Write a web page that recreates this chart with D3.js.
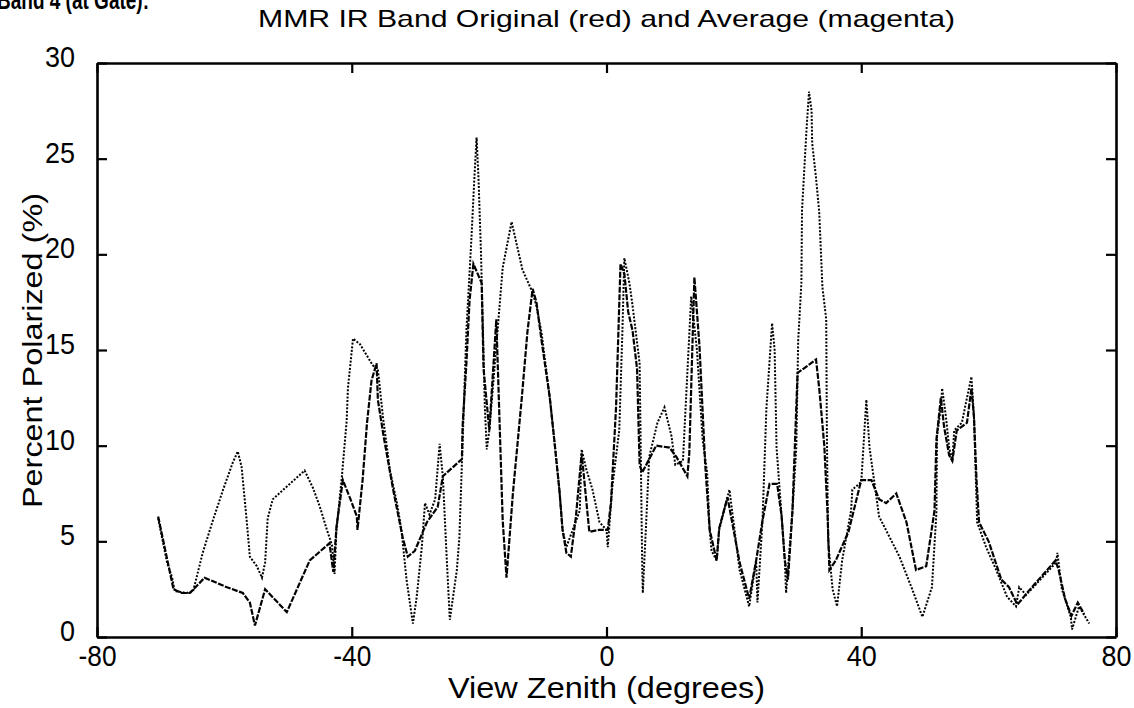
<!DOCTYPE html>
<html>
<head>
<meta charset="utf-8">
<script src="https://cdn.jsdelivr.net/npm/d3@7"></script>
<style>
  body { margin: 0; background: #fff; }
  svg text { fill: #000; }
</style>
</head>
<body>
<div class="chart"></div>
<script>
// data: [view zenith, percent polarized]
var originalSeries = [
  [-70.4,6.2],[-69,3.9],[-68.2,3.1],[-67.8,2.4],[-65.9,2.3],[-64.9,2.4],[-63.4,4.4],[-61.8,6.1],
  [-60.2,7.7],[-58.7,9.1],[-57.9,9.7],[-57.3,8.9],[-56.5,6.1],[-56,4.2],[-54.9,3.7],[-54.1,3.1],
  [-53.6,3.9],[-53.2,6.2],[-52.4,7.2],[-47.4,8.7],[-46.1,7.8],[-45,6.8],[-43.9,5.6],[-43.1,4.8],
  [-42.7,3.3],[-42.4,5.6],[-41.6,8.2],[-40.8,11.3],[-40.6,13.0],[-39.8,15.6],[-38.7,15.3],[-36.7,14.2],
  [-35.9,14.0],[-35.1,11.5],[-34,8.7],[-32.9,7.0],[-32.2,5.6],[-31.4,3.0],[-30.4,0.7],[-29.8,2.1],
  [-29,4.7],[-28.5,7.0],[-27.8,6.4],[-26.9,7.2],[-26.2,10.1],[-25.7,8.4],[-25.1,4.2],[-24.6,0.9],
  [-23.5,3.5],[-23.1,5.2],[-22.7,9.1],[-22,16],[-21.2,20.9],[-20.7,24.3],[-20.4,26.1],[-20.1,24.0],
  [-19.7,20],[-19.1,12],[-18.8,9.8],[-18.4,10.8],[-17.6,14],[-16.3,19.3],[-14.9,21.7],[-13.2,19.2],
  [-11.6,18.0],[-11,17.3],[-10.2,15.9],[-8.9,12.5],[-8.2,10.3],[-7.4,7.7],[-6.9,5.6],[-6.3,4.7],
  [-5.3,5.6],[-4.2,6.6],[-3.9,9.8],[-3.2,8.8],[-2.2,7.7],[-1.1,6.0],[0,5.6],[0.2,4.7],
  [0.9,7.8],[2.0,10.8],[2.5,16],[2.8,19.8],[3.6,18.5],[4.1,17.3],[5.2,14.3],[5.6,3.9],
  [5.7,2.3],[6.3,6.5],[6.7,9.4],[8.0,11.2],[9.1,12.0],[10.2,10.5],[10.8,9.0],[12,9.2],
  [13.3,17.8],[14.2,15],[15.1,10.3],[15.8,8.6],[16.2,5.6],[16.5,4.5],[17.3,4.0],[17.7,5.6],
  [19.3,7.7],[20.9,3.5],[22,2.1],[22.4,1.6],[23.5,4.0],[23.7,1.8],[24.5,6.1],[25.1,11.9],
  [26,16.4],[26.4,15.0],[26.7,9.9],[27.5,6.3],[28,4.0],[28.2,2.3],[29.2,6.6],[29.8,9.9],
  [30.1,15.5],[30.6,18.5],[30.7,22.3],[31.4,26.5],[31.8,28.5],[32.2,27.5],[32.3,25.8],[32.9,24.0],
  [33.4,22.2],[33.9,18.3],[34.5,16.6],[34.6,10.8],[34.8,5.0],[35.5,2.5],[36.2,1.6],[37,4.0],
  [38.4,6.6],[38.6,7.7],[40,8.1],[40.8,12.4],[41.3,9.9],[42.8,6.3],[46,4.2],[48,2.5],
  [49.6,1.05],[51.1,2.6],[51.8,6.5],[51.9,10.5],[52.5,12.0],[52.7,13.0],[53.3,11.5],[53.8,9.9],
  [54.3,9.2],[54.6,10.8],[55.8,11.2],[56.6,12.5],[57.3,13.6],[57.7,11.5],[58,8.2],[58.2,6.0],
  [59.6,4.7],[61.2,3.5],[62.9,2.1],[64.3,1.6],[64.8,2.6],[65.9,2.2],[70.6,3.9],[70.8,4.4],
  [71.5,2.5],[72.9,1.05],[73.1,0.4],[74.2,1.6],[75.8,0.7]
];

var averageSeries = [
  [-70.4,6.3],[-68.5,3.3],[-68,2.5],[-66.7,2.3],[-65.4,2.3],[-63.1,3.1],[-59.6,2.6],[-57.1,2.3],
  [-56,1.8],[-55.2,0.6],[-53.6,2.5],[-50.2,1.3],[-46.6,4.0],[-43.5,4.9],[-42.9,3.4],[-42.4,5.75],
  [-41.4,8.2],[-40.2,7.2],[-39.2,6.3],[-39.1,5.6],[-38.3,8.2],[-37.6,11.2],[-36.9,13.4],[-36.1,14.3],
  [-35.9,12.4],[-35,10.5],[-33.5,7.7],[-32,5.2],[-31.2,4.2],[-30.1,4.5],[-28.2,6.0],[-26.5,6.8],
  [-25.7,8.4],[-22.7,9.3],[-22.6,11],[-22,14.3],[-21.5,17.6],[-20.9,19.5],[-19.6,18.5],[-19.3,14],
  [-18.4,10.8],[-17.3,16.6],[-16.3,6.1],[-15.7,3.1],[-14.7,7.5],[-13.3,12.5],[-12.4,16],[-11.6,18.2],
  [-11,17.5],[-10.2,15.5],[-8.9,12.5],[-8.2,10.3],[-7.4,7.7],[-6.9,5.6],[-6.3,4.4],[-5.6,4.2],
  [-4.8,6.3],[-3.9,9.6],[-2.7,5.5],[-1.1,5.6],[0.2,5.6],[0.7,7.0],[1.5,12.0],[2.2,19.5],
  [2.8,19.0],[3.4,17.0],[4.1,16.0],[4.8,14.0],[5.2,9.0],[5.6,8.6],[6.4,9.1],[7.8,10.0],
  [9.9,9.9],[11,9.4],[12.7,8.4],[13,9.6],[13.8,18.8],[14.6,15.2],[15.5,9],[16.2,5.6],
  [17.3,4.0],[17.7,5.7],[19,7.3],[20.9,3.9],[22.4,2.0],[23.5,4.0],[24.5,6.1],[25.6,8.0],
  [26.8,8.0],[27.5,6.3],[28,4.0],[28.5,3.0],[29.2,6.6],[30,13.8],[32.9,14.5],[33.4,13],
  [34.2,10],[34.7,6.5],[35,3.5],[36,4.0],[38,5.5],[40,8.2],[41.6,8.2],[42.8,7.2],
  [43.9,7.0],[45.5,7.5],[47.1,6.0],[48.6,3.5],[50.2,3.7],[51.5,6.6],[51.8,10.3],[52.5,12.5],
  [53,11.0],[53.8,9.5],[54.3,9.2],[55,10.8],[56.6,11.2],[57.3,13.0],[57.7,11.5],[58.1,8.2],
  [58.5,6.0],[60,5.0],[62,3.0],[63.2,2.6],[64.5,1.7],[65.3,2.0],[66,2.3],[70.5,4.0],
  [71,3.5],[72,2.0],[73,1.1],[74,1.8],[75,1.2]
];

var xTicks = [-80, -40, 0, 40, 80];
var yTicks = [0, 5, 10, 15, 20, 25, 30];

// set the dimensions and margins of the graph
var svgWidth = 1134;
var svgHeight = 708;

var margin = { top: 63, right: 18, bottom: 71, left: 97 };

var width = svgWidth - margin.left - margin.right;
var height = svgHeight - margin.top - margin.bottom;

var svg = d3.select(".chart")
  .append("svg")
  .attr("width", svgWidth)
  .attr("height", svgHeight)
  .style("font-family", "'Liberation Sans', Arial, Helvetica, sans-serif");

var chartGroup = svg.append("g")
  .attr("transform", `translate(${margin.left}, ${margin.top})`);

// scales
var xScale = d3.scaleLinear().domain([-80, 80]).range([0, width]);
var yScale = d3.scaleLinear().domain([0, 30]).range([height, 0]);

var fmt = d => String(d); // plain hyphen like matlab

// axes, ticks pointing inward
var bottomAxis = d3.axisBottom(xScale).tickValues(xTicks).tickSizeInner(-10).tickSizeOuter(0).tickPadding(8).tickFormat(fmt);
var topAxis = d3.axisTop(xScale).tickValues(xTicks).tickSizeInner(-10).tickSizeOuter(0).tickFormat("");
var leftAxis = d3.axisLeft(yScale).tickValues(yTicks).tickSizeInner(-10).tickSizeOuter(0).tickPadding(22).tickFormat(fmt);
var rightAxis = d3.axisRight(yScale).tickValues(yTicks).tickSizeInner(-10).tickSizeOuter(0).tickFormat("");

// narrow, tall digits of the scan
function labelWidth(s) {
  return s.split("").reduce((w, c) => w + (c === "-" ? 8 : 15), 0);
}

function styleAxis(g) {
  g.select(".domain").attr("stroke", "#000").attr("stroke-width", 2.6);
  g.selectAll(".tick line").attr("stroke", "#000").attr("stroke-width", 2.2);
  g.selectAll(".tick text")
    .attr("font-size", 30)
    .attr("fill", "#000")
    .attr("textLength", d => labelWidth(fmt(d)))
    .attr("lengthAdjust", "spacingAndGlyphs");
}

chartGroup.append("g").attr("transform", `translate(0, ${height})`).call(bottomAxis).call(styleAxis);
chartGroup.append("g").call(topAxis).call(styleAxis);
chartGroup.append("g").call(leftAxis).call(styleAxis)
  .selectAll(".tick text").attr("dy", "0.12em");
chartGroup.append("g").attr("transform", `translate(${width}, 0)`).call(rightAxis).call(styleAxis);

// lines
var line = d3.line()
  .x(d => xScale(d[0]))
  .y(d => yScale(d[1]));

chartGroup.append("path")
  .datum(averageSeries)
  .attr("fill", "none")
  .attr("stroke", "#000")
  .attr("stroke-width", 2.2)
  .attr("stroke-dasharray", "6,1.5")
  .attr("d", line);

chartGroup.append("path")
  .datum(originalSeries)
  .attr("fill", "none")
  .attr("stroke", "#000")
  .attr("stroke-width", 2)
  .attr("stroke-dasharray", "2,1.6")
  .attr("d", line);

// cropped caption above the figure
svg.append("text")
  .attr("x", -3)
  .attr("y", 9)
  .attr("font-size", 26)
  .attr("font-weight", "bold")
  .attr("textLength", 152)
  .attr("lengthAdjust", "spacingAndGlyphs")
  .text("Band 4 (at Gate):");

svg.append("text")
  .attr("x", 258)
  .attr("y", 27)
  .attr("font-size", 24)
  .attr("fill", "#333")
  .attr("textLength", 697)
  .attr("lengthAdjust", "spacingAndGlyphs")
  .text("MMR IR Band Original (red) and Average (magenta)");

svg.append("text")
  .attr("transform", "translate(42, 508) rotate(-90)")
  .attr("font-size", 28)
  .attr("textLength", 315)
  .attr("lengthAdjust", "spacingAndGlyphs")
  .text("Percent Polarized (%)");

svg.append("text")
  .attr("x", 448)
  .attr("y", 698)
  .attr("font-size", 29)
  .attr("textLength", 317)
  .attr("lengthAdjust", "spacingAndGlyphs")
  .text("View Zenith (degrees)");
</script>
</body>
</html>
